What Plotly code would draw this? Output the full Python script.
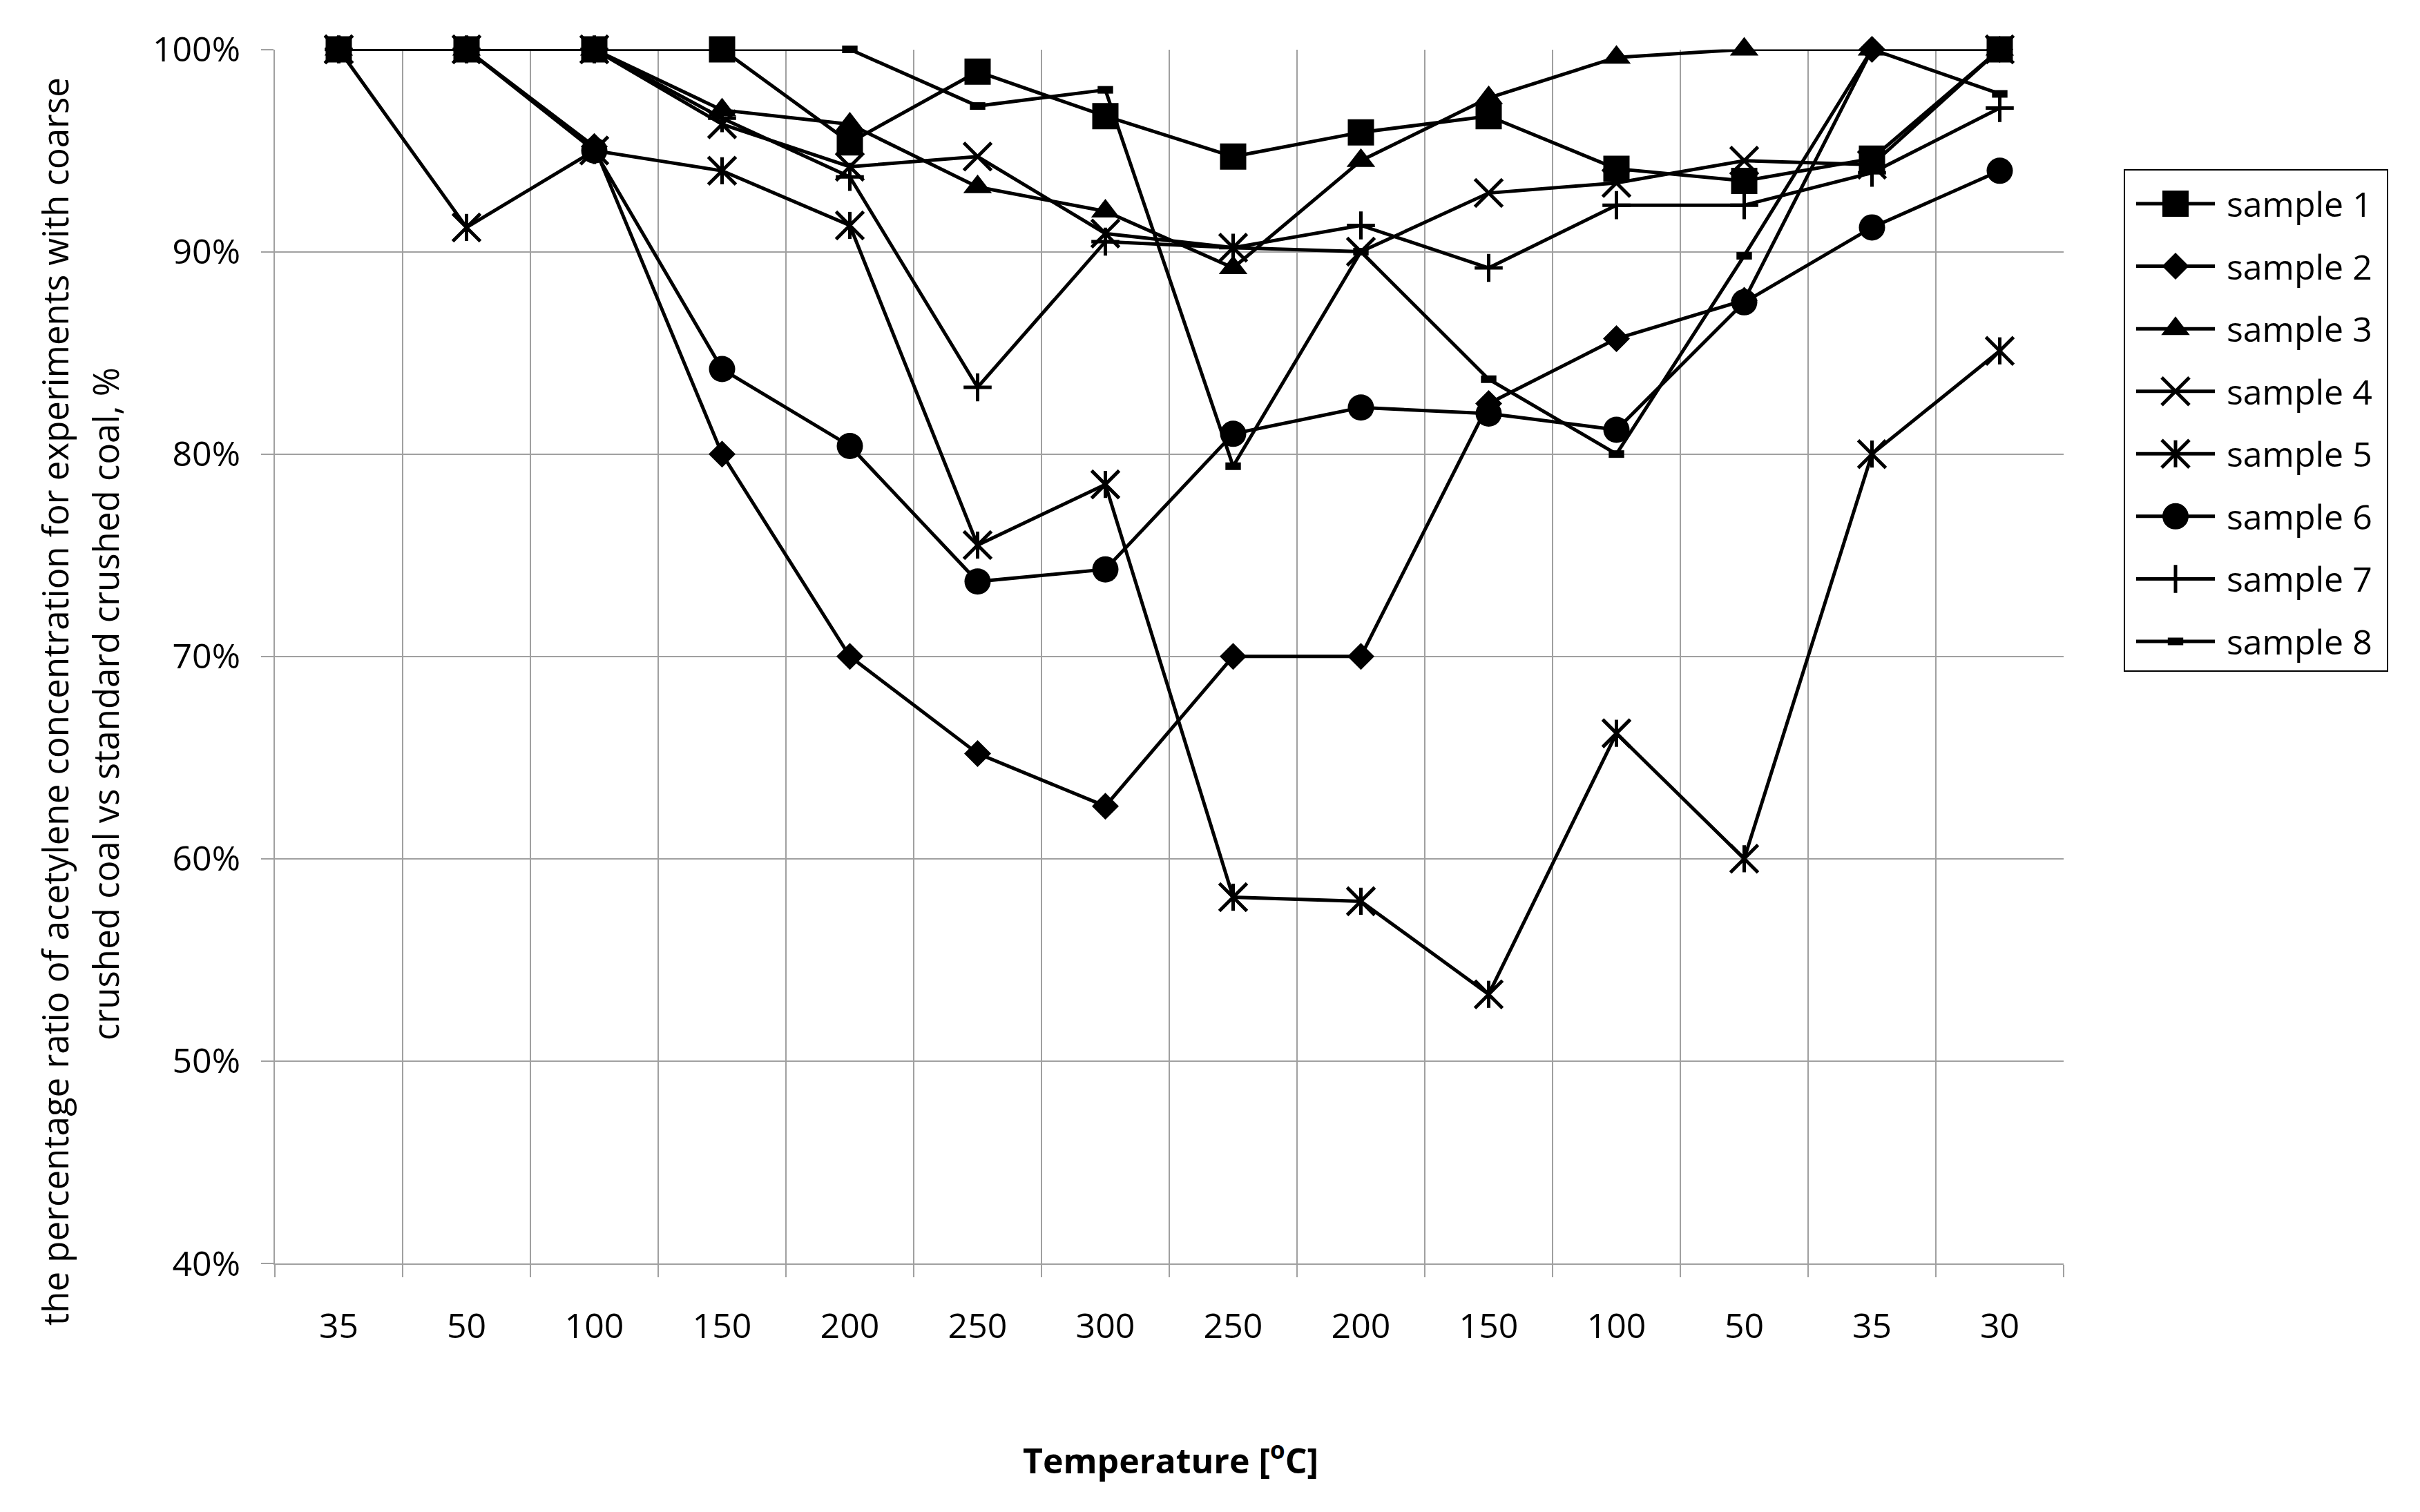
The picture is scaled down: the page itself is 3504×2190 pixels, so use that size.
import plotly.graph_objects as go

# ---------------- data ----------------
temperatures = ["35", "50", "100", "150", "200", "250", "300",
                "250", "200", "150", "100", "50", "35", "30"]
sample_names = ["sample 1", "sample 2", "sample 3", "sample 4",
                "sample 5", "sample 6", "sample 7", "sample 8"]

sample_1 = [100, 100, 100, 100, 95.4, 98.9, 96.7, 94.7, 95.9, 96.7, 94.1, 93.5, 94.6, 100]
sample_2 = [100, 100, 95.2, 80.0, 70.0, 65.2, 62.6, 70.0, 70.0, 82.5, 85.7, 87.6, 100, 100]
sample_3 = [100, 100, 100, 97.0, 96.3, 93.2, 92.0, 89.2, 94.5, 97.6, 99.6, 100, 100, 100]
sample_4 = [100, 100, 100, 96.3, 94.2, 94.7, 90.9, 90.2, 90.0, 92.9, 93.4, 94.5, 94.3, 100]
sample_5 = [100, 91.2, 95.0, 94.0, 91.3, 75.5, 78.5, 58.1, 57.9, 53.3, 66.2, 60.0, 80.0, 85.1]
sample_6 = [100, 100, 95.0, 84.2, 80.4, 73.7, 74.3, 81.0, 82.3, 82.0, 81.2, 87.5, 91.2, 94.0]
sample_7 = [100, 100, 100, 96.6, 93.7, 83.3, 90.5, 90.2, 91.3, 89.2, 92.3, 92.3, 93.9, 97.1]
sample_8 = [100, 100, 100, 100, 100, 97.2, 98.0, 79.4, 90.0, 83.7, 80.0, 89.8, 100, 97.8]

y_ticks = [40, 50, 60, 70, 80, 90, 100]
y_tick_labels = [f"{v}%" for v in y_ticks]

series = [sample_1, sample_2, sample_3, sample_4, sample_5, sample_6, sample_7, sample_8]

# ---------------- geometry helpers (pixel -> paper) ----------------
W, H = 3504, 2190
MT, MB = 40, 40            # explicit top/bottom margins
HP = H - MT - MB


def pxx(p):
    return p / W


def pxy(p):
    return 1 - (p - MT) / HP


PL, PR, PT, PB = 398, 2988, 71.5, 1830
GRID = "#A0A0A0"
FONT = "Open Sans"
LW = 5


def mk(symbol, size, open_=False, lw=5):
    if open_:
        return dict(symbol=symbol, size=size, color="black",
                    line=dict(color="black", width=lw))
    return dict(symbol=symbol, size=size, color="black", line=dict(width=0))


markers = [
    mk("square", 38),
    mk("diamond", 30),
    mk("triangle-up", 36),
    mk("x-thin-open", 40, True),
    mk("x-thin-open", 40, True),
    mk("circle", 38),
    mk("cross-thin-open", 29, True),
    mk("line-ew-open", 16, True, 11),
]
extra_marker_5 = mk("line-ns-open", 28, True)  # vertical bar completes the star marker

positions = list(range(len(temperatures)))

fig = go.Figure()

for i, (name, vals) in enumerate(zip(sample_names, series)):
    fig.add_trace(go.Scatter(
        x=positions, y=vals, name=name, mode="lines+markers",
        line=dict(color="black", width=LW), marker=markers[i],
        cliponaxis=False, showlegend=False, xaxis="x", yaxis="y"))
    if i == 4:
        fig.add_trace(go.Scatter(
            x=positions, y=vals, name=name, mode="markers",
            marker=extra_marker_5, cliponaxis=False, showlegend=False,
            xaxis="x", yaxis="y"))

# ---------------- custom legend (drawn in its own small axes) ----------------
for i, name in enumerate(sample_names):
    fig.add_trace(go.Scatter(
        x=[0, 1], y=[i, i], mode="lines", line=dict(color="black", width=LW),
        showlegend=False, hoverinfo="skip", cliponaxis=False,
        xaxis="x3", yaxis="y3"))
    fig.add_trace(go.Scatter(
        x=[0.5], y=[i], mode="markers", marker=markers[i],
        showlegend=False, hoverinfo="skip", cliponaxis=False,
        xaxis="x3", yaxis="y3"))
    if i == 4:
        fig.add_trace(go.Scatter(
            x=[0.5], y=[i], mode="markers", marker=extra_marker_5,
            showlegend=False, hoverinfo="skip", cliponaxis=False,
            xaxis="x3", yaxis="y3"))

annotations = []
for i, name in enumerate(sample_names):
    annotations.append(dict(
        text=name, xref="paper", yref="y3", x=pxx(3222), y=i,
        xanchor="left", yanchor="middle", showarrow=False,
        font=dict(family=FONT, size=50, color="black")))

# axis titles
annotations.append(dict(
    text="the percentage ratio of acetylene concentration for experiments with coarse",
    xref="paper", yref="paper", x=pxx(79), y=pxy(1016), textangle=-90,
    xanchor="center", yanchor="middle", showarrow=False,
    font=dict(family=FONT, size=51, color="black")))
annotations.append(dict(
    text="crushed coal vs standard crushed coal, %",
    xref="paper", yref="paper", x=pxx(152), y=pxy(1020), textangle=-90,
    xanchor="center", yanchor="middle", showarrow=False,
    font=dict(family=FONT, size=51, color="black")))
annotations.append(dict(
    text="<b>Temperature [<sup>o</sup>C]</b>",
    xref="paper", yref="paper", x=pxx(1695), y=pxy(2112),
    xanchor="center", yanchor="middle", showarrow=False,
    font=dict(family=FONT, size=50, color="black")))

legend_top, legend_bot = 249.7, 974.3

fig.update_layout(
    width=W, height=H, autosize=False,
    margin=dict(l=0, r=0, t=MT, b=MB, pad=0, autoexpand=False),
    paper_bgcolor="white", plot_bgcolor="white",
    showlegend=False,
    font=dict(family=FONT, color="black"),
    xaxis=dict(
        domain=[pxx(PL), pxx(PR)], range=[-0.5, len(temperatures) - 0.5],
        tickmode="array", tickvals=positions, ticktext=temperatures,
        showgrid=False, ticks="",
        tickfont=dict(family=FONT, size=50, color="black"),
        ticklabelstandoff=46, automargin=False,
        minor=dict(tickmode="linear", tick0=-0.5, dtick=1,
                   showgrid=True, gridcolor=GRID, gridwidth=1.5,
                   ticks="outside", ticklen=18, tickwidth=1.5, tickcolor=GRID),
        showline=True, linecolor=GRID, linewidth=2, zeroline=False,
        anchor="y", fixedrange=True),
    yaxis=dict(
        domain=[pxy(PB), pxy(PT)], range=[40, 100],
        tickmode="array", tickvals=y_ticks, ticktext=y_tick_labels,
        showgrid=True, gridcolor=GRID, gridwidth=1.5,
        ticks="outside", ticklen=18, tickwidth=1.5, tickcolor=GRID,
        showline=True, linecolor=GRID, linewidth=2, zeroline=False,
        tickfont=dict(family=FONT, size=50, color="black"),
        ticklabelstandoff=20, automargin=False, anchor="x", fixedrange=True),
    xaxis3=dict(domain=[pxx(3093), pxx(3207)], range=[0, 1], visible=False,
                anchor="y3", fixedrange=True),
    yaxis3=dict(domain=[pxy(legend_bot), pxy(legend_top)],
                range=[len(sample_names) - 0.5, -0.5], visible=False,
                anchor="x3", fixedrange=True),
    annotations=annotations,
    shapes=[dict(type="rect", xref="paper", yref="paper",
                 x0=pxx(3076), x1=pxx(3457), y0=pxy(972), y1=pxy(246),
                 line=dict(color="black", width=2), fillcolor="rgba(0,0,0,0)")],
)

fig.write_html(
    "out.html",
    config={"displayModeBar": False},
    post_script="document.body.style.margin='0';document.body.style.overflow='hidden';",
)
